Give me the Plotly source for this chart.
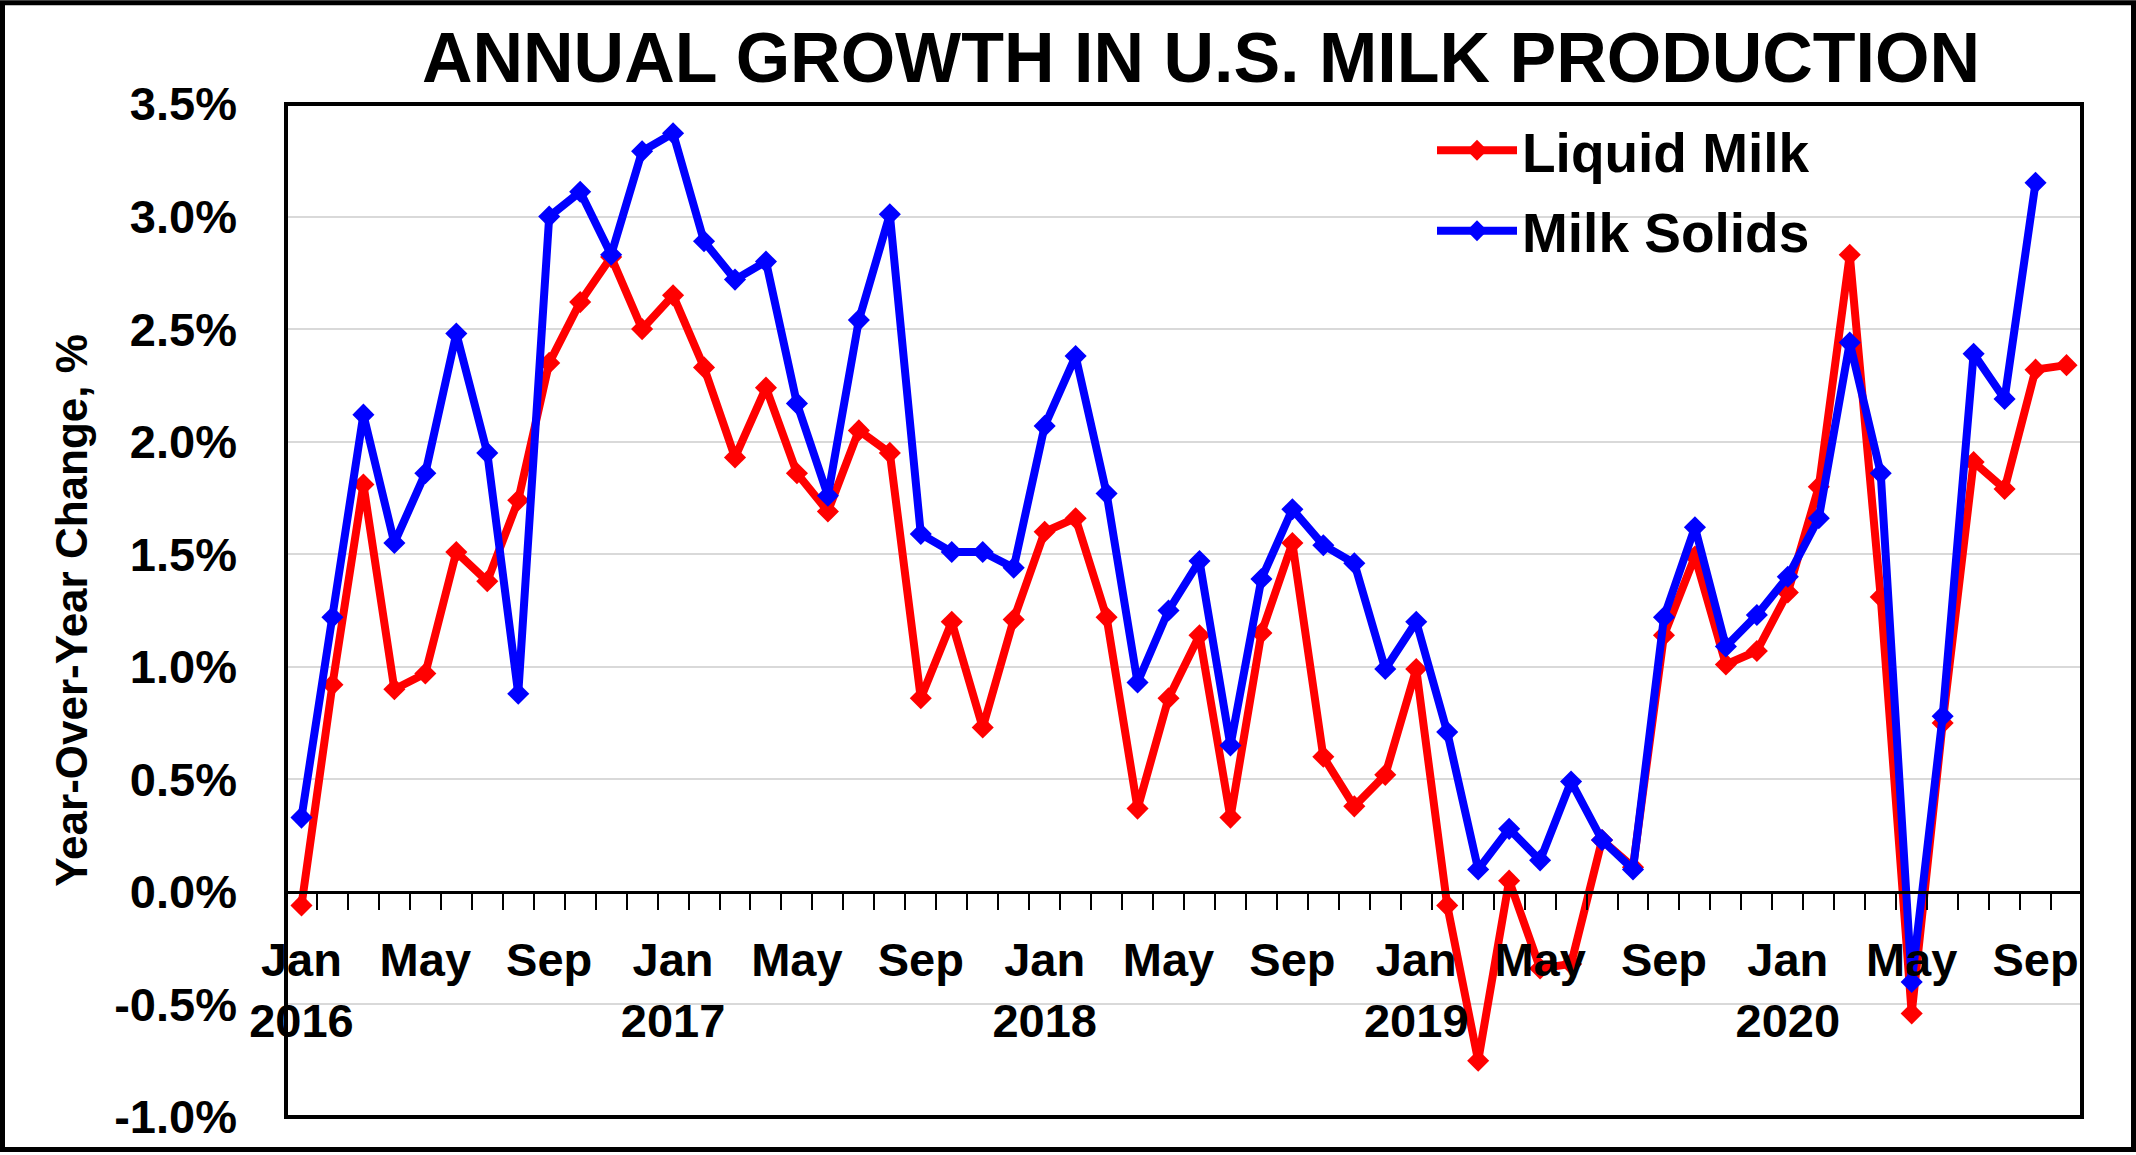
import numpy as np
import pandas as pd
import plotly.graph_objects as go

# ---------------- data ----------------
months = pd.date_range("2016-01-01", periods=58, freq="MS")   # Jan 2016 .. Oct 2020

liquid_milk = [
    -0.06, 0.92, 1.81, 0.90, 0.97, 1.51, 1.38, 1.74, 2.35, 2.62, 2.82, 2.50,   # 2016
    2.65, 2.33, 1.93, 2.24, 1.86, 1.69, 2.05, 1.95, 0.86, 1.20, 0.73, 1.21,    # 2017
    1.60, 1.66, 1.22, 0.37, 0.86, 1.14, 0.33, 1.15, 1.55, 0.60, 0.38, 0.52,    # 2018
    0.99, -0.06, -0.75, 0.05, -0.34, -0.32, 0.23, 0.11, 1.14, 1.49, 1.01, 1.07,  # 2019
    1.33, 1.80, 2.83, 1.31, -0.54, 0.75, 1.91, 1.79, 2.32, 2.34,               # 2020
]
milk_solids = [
    0.33, 1.22, 2.12, 1.55, 1.86, 2.48, 1.95, 0.88, 3.00, 3.11, 2.83, 3.29,
    3.37, 2.89, 2.72, 2.80, 2.17, 1.76, 2.54, 3.01, 1.59, 1.51, 1.51, 1.44,
    2.07, 2.38, 1.77, 0.93, 1.25, 1.47, 0.65, 1.39, 1.70, 1.54, 1.46, 0.99,
    1.20, 0.71, 0.10, 0.28, 0.14, 0.49, 0.23, 0.10, 1.22, 1.62, 1.09, 1.23,
    1.40, 1.66, 2.44, 1.86, -0.40, 0.78, 2.39, 2.19, 3.15, None,
]
y_ticks = [-1.0, -0.5, 0.0, 0.5, 1.0, 1.5, 2.0, 2.5, 3.0, 3.5]
y_tick_labels = [f"{v:.1f}%" for v in y_ticks]
label_months = (1, 5, 9)

# ---------------- geometry / style ----------------
W, H = 2136, 1155
ML, MR, MT, MB = 286, 54, 104, 35
PW, PH = W - ML - MR, H - MT - MB
FONT = "Liberation Sans, Arial, sans-serif"
y_min, y_max = y_ticks[0], y_ticks[-1]

x = np.arange(len(months))
tick_idx = [i for i, d in enumerate(months) if d.month in label_months]
tick_text = [months[i].strftime("%b") + (f"<br>{months[i].year}" if months[i].month == 1 else "")
             for i in tick_idx]
boundaries = [i + 0.5 for i in range(len(months) - 1)]

fig = go.Figure()
fig.add_trace(go.Scatter(
    x=x, y=liquid_milk, name="Liquid Milk", mode="lines+markers",
    line=dict(color="#ff0000", width=8),
    marker=dict(symbol="diamond", size=17, color="#ff0000"),
    legendgroup="a",
))
fig.add_trace(go.Scatter(
    x=x, y=milk_solids, name="Milk Solids", mode="lines+markers",
    line=dict(color="#0000ff", width=8),
    marker=dict(symbol="diamond", size=17, color="#0000ff"),
    legendgroup="b",
))

def px_to_paper_x(px):
    return (px - ML) / PW

def px_to_paper_y(py):
    return 1 - (py - MT) / PH

fig.update_layout(
    width=W, height=H,
    margin=dict(l=ML, r=MR, t=MT, b=MB, pad=0),
    paper_bgcolor="white", plot_bgcolor="white",
    font=dict(family=FONT, color="black"),
    title=dict(
        text="ANNUAL GROWTH IN U.S. MILK PRODUCTION",
        font=dict(family=FONT, size=70, weight="bold", color="black"),
        xref="container", yref="container",
        x=1201 / W, y=1 - 57 / H, xanchor="center", yanchor="middle",
    ),
    xaxis=dict(
        range=[-0.5, len(months) - 0.5],
        anchor="free", position=(0 - y_min) / (y_max - y_min),
        showline=True, linecolor="black", linewidth=3,
        showgrid=False, zeroline=False,
        tickmode="array", tickvals=tick_idx, ticktext=tick_text,
        ticks="", ticklabelstandoff=26,
        tickfont=dict(family=FONT, size=47, weight="bold", color="black"),
        minor=dict(tickmode="array", tickvals=boundaries, ticks="outside",
                   ticklen=16, tickwidth=2, tickcolor="black", showgrid=False),
    ),
    yaxis=dict(
        range=[y_min, y_max],
        tickmode="array", tickvals=y_ticks, ticktext=y_tick_labels,
        showgrid=True, gridcolor="#d9d9d9", gridwidth=2,
        zeroline=False, showline=False, ticks="",
        ticklabelstandoff=48,
        tickfont=dict(family=FONT, size=47, weight="bold", color="black"),
        title=dict(text="Year-Over-Year Change, %", standoff=12,
                   font=dict(family=FONT, size=44, weight="bold", color="black")),
    ),
    legend=dict(
        x=px_to_paper_x(1432), y=px_to_paper_y(108),
        xanchor="left", yanchor="top",
        bgcolor="rgba(0,0,0,0)", borderwidth=0,
        font=dict(family=FONT, size=55, weight="bold", color="black"),
        itemwidth=80, tracegroupgap=6,
    ),
    showlegend=True,
    shapes=[
        dict(type="rect", xref="paper", yref="paper", x0=0, x1=1, y0=0, y1=1,
             line=dict(color="black", width=4), layer="above"),
        dict(type="rect", xref="paper", yref="paper",
             x0=px_to_paper_x(2.5), x1=px_to_paper_x(W - 2.5),
             y0=px_to_paper_y(H - 2.5), y1=px_to_paper_y(2.5),
             line=dict(color="black", width=5), layer="above"),
    ],
)

fig.write_html("out.html",
               config={"displayModeBar": False},
               post_script="document.body.style.margin='0';document.body.style.overflow='hidden';")
